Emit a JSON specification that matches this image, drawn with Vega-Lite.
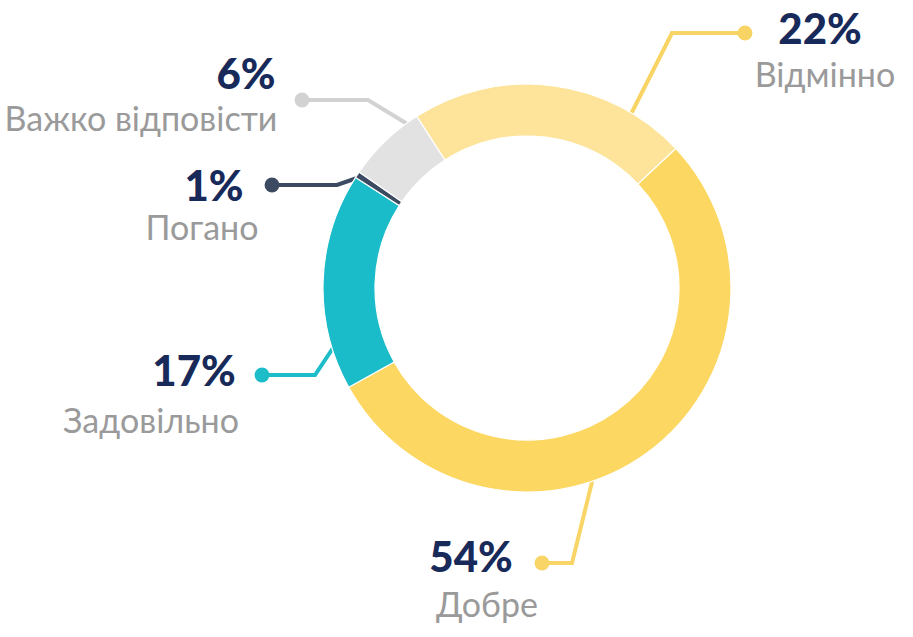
{
  "$schema": "https://vega.github.io/schema/vega-lite/v6.json",
  "width": 913,
  "height": 637,
  "autosize": {"type": "fit", "contains": "padding"},
  "padding": 0,
  "background": "white",
  "config": {"view": {"stroke": null}},
  "datasets": {
    "segments": [
      {"category": "Відмінно", "value": 22.1, "order": 1},
      {"category": "Добре", "value": 53.9, "order": 2},
      {"category": "Задовільно", "value": 17.2, "order": 3},
      {"category": "Погано", "value": 0.5, "order": 4},
      {"category": "Важко відповісти", "value": 6.3, "order": 5}
    ],
    "leaders": [
      {"category": "Відмінно", "seq": 0, "x": 218, "y": 255},
      {"category": "Відмінно", "seq": 1, "x": 145, "y": 255},
      {"category": "Відмінно", "seq": 2, "x": 101, "y": 168},
      {"category": "Добре", "seq": 0, "x": 15, "y": -275},
      {"category": "Добре", "seq": 1, "x": 45, "y": -275},
      {"category": "Добре", "seq": 2, "x": 67, "y": -186},
      {"category": "Задовільно", "seq": 0, "x": -265, "y": -87},
      {"category": "Задовільно", "seq": 1, "x": -212, "y": -87},
      {"category": "Задовільно", "seq": 2, "x": -190, "y": -54},
      {"category": "Погано", "seq": 0, "x": -255, "y": 103},
      {"category": "Погано", "seq": 1, "x": -190, "y": 103},
      {"category": "Погано", "seq": 2, "x": -167, "y": 111},
      {"category": "Важко відповісти", "seq": 0, "x": -225, "y": 188},
      {"category": "Важко відповісти", "seq": 1, "x": -159, "y": 188},
      {"category": "Важко відповісти", "seq": 2, "x": -113, "y": 160}
    ],
    "labels": [
      {"category": "Відмінно", "pct": "22%", "px": 293, "py": 244, "name": "Відмінно", "nx": 298, "ny": 201},
      {"category": "Добре", "pct": "54%", "px": -56, "py": -284, "name": "Добре", "nx": -40, "ny": -329},
      {"category": "Задовільно", "pct": "17%", "px": -333, "py": -98, "name": "Задовільно", "nx": -376, "ny": -145},
      {"category": "Погано", "pct": "1%", "px": -313, "py": 87, "name": "Погано", "nx": -325, "ny": 48},
      {"category": "Важко відповісти", "pct": "6%", "px": -281, "py": 199, "name": "Важко відповісти", "nx": -386, "ny": 157}
    ]
  },
  "layer": [
    {
      "data": {"name": "leaders"},
      "mark": {"type": "line", "strokeWidth": 4, "strokeJoin": "miter"},
      "encoding": {
        "x": {"field": "x", "type": "quantitative", "scale": {"domain": [-527, 386], "nice": false, "zero": false}, "axis": null},
        "y": {"field": "y", "type": "quantitative", "scale": {"domain": [-349, 288], "nice": false, "zero": false}, "axis": null},
        "order": {"field": "seq", "type": "quantitative"},
        "detail": {"field": "category", "type": "nominal"},
        "stroke": {
          "field": "category", "type": "nominal", "legend": null,
          "scale": {
            "domain": ["Відмінно", "Добре", "Задовільно", "Погано", "Важко відповісти"],
            "range": ["#F7D463", "#F8D566", "#1DBCC9", "#3C4B62", "#D2D2D2"]
          }
        }
      }
    },
    {
      "data": {"name": "segments"},
      "mark": {"type": "arc", "radius": 204, "radius2": 152, "stroke": "white", "strokeWidth": 1.2},
      "encoding": {
        "theta": {"field": "value", "type": "quantitative", "stack": true, "scale": {"range": [-0.5707, 5.7125]}},
        "order": {"field": "order", "type": "quantitative"},
        "color": {
          "field": "category", "type": "nominal", "legend": null,
          "scale": {
            "domain": ["Відмінно", "Добре", "Задовільно", "Погано", "Важко відповісти"],
            "range": ["#FDE49A", "#FCD762", "#1BBCC9", "#3C4B62", "#E2E2E2"]
          }
        },
        "x": {"datum": 0, "type": "quantitative", "scale": {"domain": [-527, 386], "nice": false, "zero": false}, "axis": null},
        "y": {"datum": 0, "type": "quantitative", "scale": {"domain": [-349, 288], "nice": false, "zero": false}, "axis": null}
      }
    },
    {
      "data": {"name": "leaders"},
      "transform": [{"filter": {"field": "seq", "equal": 0}}],
      "mark": {"type": "point", "filled": true, "shape": "circle", "size": 220, "opacity": 1},
      "encoding": {
        "x": {"field": "x", "type": "quantitative", "scale": {"domain": [-527, 386], "nice": false, "zero": false}, "axis": null},
        "y": {"field": "y", "type": "quantitative", "scale": {"domain": [-349, 288], "nice": false, "zero": false}, "axis": null},
        "fill": {
          "field": "category", "type": "nominal", "legend": null,
          "scale": {
            "domain": ["Відмінно", "Добре", "Задовільно", "Погано", "Важко відповісти"],
            "range": ["#F7D463", "#F8D566", "#1DBCC9", "#3C4B62", "#D2D2D2"]
          }
        }
      }
    },
    {
      "data": {"name": "labels"},
      "mark": {"type": "text", "font": "Lato", "fontWeight": 900, "fontSize": 42, "align": "center", "baseline": "alphabetic", "color": "#182A5A"},
      "encoding": {
        "x": {"field": "px", "type": "quantitative", "scale": {"domain": [-527, 386], "nice": false, "zero": false}, "axis": null},
        "y": {"field": "py", "type": "quantitative", "scale": {"domain": [-349, 288], "nice": false, "zero": false}, "axis": null},
        "text": {"field": "pct", "type": "nominal"}
      }
    },
    {
      "data": {"name": "labels"},
      "mark": {"type": "text", "font": "Lato", "fontSize": 34, "align": "center", "baseline": "alphabetic", "color": "#9A9A9A"},
      "encoding": {
        "x": {"field": "nx", "type": "quantitative", "scale": {"domain": [-527, 386], "nice": false, "zero": false}, "axis": null},
        "y": {"field": "ny", "type": "quantitative", "scale": {"domain": [-349, 288], "nice": false, "zero": false}, "axis": null},
        "text": {"field": "name", "type": "nominal"}
      }
    }
  ]
}
